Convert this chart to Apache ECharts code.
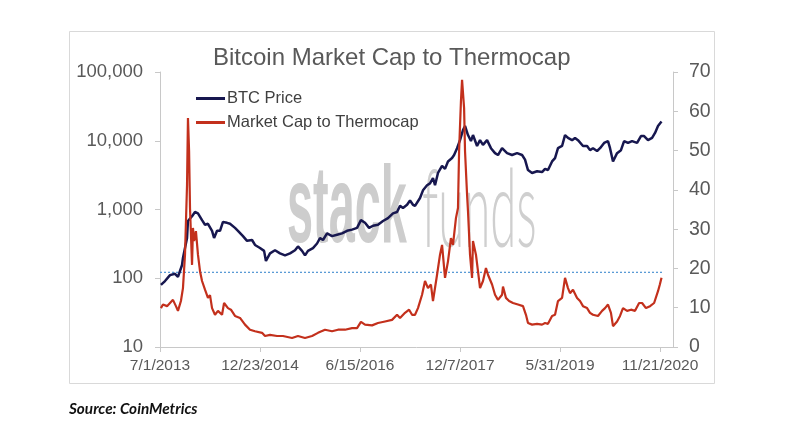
<!DOCTYPE html>
<html>
<head>
<meta charset="utf-8">
<script src="https://cdn.jsdelivr.net/npm/echarts@6/dist/echarts.min.js"></script>
<style>
html,body{margin:0;padding:0;background:#fff;}
#chart{width:800px;height:445px;}
</style>
</head>
<body>
<div id="chart"></div>
<script>
// ---- Data (days counted from 7/1/2013) ----
const startDate = Date.UTC(2013, 6, 1);
const xTickDays = [0, 540, 1080, 1620, 2160, 2700];
const leftTicks = [10, 100, 1000, 10000, 100000];

const btcDay = [5,27,54,81,97,119,124,146,151,173,189,205,227,243,259,281,292,308,324,340,362,378,405,421,448,470,497,513,540,562,572,594,621,648,675,702,729,745,767,783,799,826,848,864,880,902,929,956,983,1010,1037,1064,1085,1107,1129,1150,1177,1204,1231,1258,1280,1296,1312,1334,1350,1366,1377,1404,1420,1442,1458,1474,1485,1501,1523,1539,1555,1577,1588,1604,1620,1636,1647,1663,1679,1690,1712,1728,1744,1766,1787,1809,1825,1847,1874,1901,1928,1955,1971,1987,2009,2036,2063,2079,2095,2117,2133,2149,2171,2187,2203,2225,2241,2257,2284,2306,2322,2338,2360,2376,2398,2419,2430,2446,2468,2489,2506,2527,2549,2576,2597,2614,2635,2657,2673,2689,2708];
const btcPrice = [80,91,111,116,105,156,197,385,680,800,920,880,700,600,620,490,385,490,490,660,640,620,540,490,410,350,360,305,275,250,178,230,255,230,215,230,255,290,250,215,250,275,320,385,360,450,410,430,450,490,510,540,700,640,540,580,600,680,750,880,920,1130,1050,1170,1350,1170,1130,1470,1900,2250,2400,2870,2250,3400,4300,3900,5000,5600,6200,7800,10200,14300,16400,12100,9900,12100,8400,10200,8700,10200,7800,6600,6200,7800,6600,6200,6600,6200,5300,3750,3400,3600,3500,3900,3750,5000,5600,7800,8400,12100,11000,10200,11000,10200,8400,8400,7300,7800,7100,7800,9300,9900,7800,5000,6600,7300,9900,9300,9900,9300,11700,11700,10200,11000,13000,16400,19000];

const mctDay = [5,16,38,54,70,86,97,113,124,135,146,151,157,162,173,178,184,194,205,216,227,243,259,270,281,297,313,335,346,367,383,405,432,459,486,513,551,567,594,632,664,713,745,783,821,853,891,929,961,999,1037,1064,1085,1107,1145,1177,1215,1253,1280,1296,1323,1345,1361,1377,1393,1415,1431,1447,1463,1474,1496,1512,1523,1539,1555,1571,1582,1598,1609,1615,1625,1631,1642,1647,1658,1663,1674,1685,1690,1706,1717,1728,1744,1760,1771,1793,1809,1825,1847,1852,1868,1885,1906,1933,1960,1976,1987,2009,2036,2063,2079,2095,2117,2133,2149,2171,2187,2203,2214,2230,2252,2268,2284,2306,2322,2338,2365,2387,2403,2419,2435,2446,2468,2484,2500,2522,2543,2565,2587,2603,2624,2646,2668,2689,2699,2708];
const mctRatio = [9.9,10.8,10.4,11.2,12.0,10.4,9.2,11.7,15.0,23.5,41.3,58.3,49.9,35.4,20.9,30.3,27.0,29.5,23.5,19.3,16.8,14.6,12.5,13.2,9.9,8.2,9.2,8.2,11.2,9.9,9.5,7.9,7.4,5.7,4.4,4.0,3.6,2.8,3.1,2.8,2.8,2.3,2.8,2.3,2.8,3.6,4.4,4.0,4.4,4.4,4.8,4.8,6.4,5.7,5.5,6.1,6.5,6.9,8.2,7.4,8.7,9.5,8.2,8.2,9.9,13.3,16.8,15.0,15.9,11.7,18.4,23.5,26.0,17.6,21.8,27.7,26.0,32.8,35.4,49.9,62.6,68.0,60.8,49.9,38.8,34.6,23.5,17.6,27.0,23.5,19.3,15.0,16.8,20.1,18.4,15.9,13.3,12.0,13.3,15.4,12.5,11.7,11.2,10.8,10.4,8.2,6.1,5.7,5.9,5.7,6.1,5.9,7.9,8.2,11.7,12.5,17.6,15.0,13.7,14.6,12.5,11.7,10.4,9.9,8.7,8.2,7.9,9.2,9.9,10.8,8.7,5.3,6.5,7.9,9.9,9.2,9.5,9.2,11.2,11.2,9.9,10.4,11.2,14.2,15.9,17.6];

const refDay = [0, 2712];
const refValue = [19, 19];

const seriesNames = ['BTC Price', 'Market Cap to Thermocap'];
const titleText = 'Bitcoin Market Cap to Thermocap';
const sourceText = 'Source: CoinMetrics';

function pairs(xs, ys) { return xs.map((x, i) => [x, ys[i]]); }
function fmtDay(d) {
  const dt = new Date(startDate + d * 86400000);
  return (dt.getUTCMonth() + 1) + '/' + dt.getUTCDate() + '/' + dt.getUTCFullYear();
}

const chart = echarts.init(document.getElementById('chart'), null, {renderer: 'canvas'});
const axisGray = '#c8c8c8';
const labelGray = '#595959';
const font = '"Liberation Sans", Arial, sans-serif';

chart.setOption({
  backgroundColor: '#fff',
  animation: false,
  title: {
    text: titleText,
    left: 213, top: 46, padding: 0,
    textStyle: {fontFamily: font, fontSize: 24, fontWeight: 'normal', color: labelGray}
  },
  legend: {
    data: seriesNames,
    orient: 'vertical',
    left: 191, top: 85,
    itemWidth: 29, itemHeight: 3, itemGap: 7,
    icon: 'rect',
    textStyle: {fontFamily: font, fontSize: 16.5, color: '#404040', padding: [0, 0, 0, -3]}
  },
  grid: {left: 160, right: 127, top: 72, bottom: 98, containLabel: false},
  xAxis: {
    type: 'value', min: 0, max: 2770,
    axisLine: {show: true, lineStyle: {color: axisGray, width: 1}},
    axisTick: {show: true, length: 5, lineStyle: {color: axisGray}, customValues: xTickDays},
    axisLabel: {customValues: xTickDays, formatter: fmtDay, margin: 11,
      fontFamily: font, fontSize: 15.5, color: labelGray},
    splitLine: {show: false}
  },
  yAxis: [{
    type: 'log', logBase: 10, min: 10, max: 100000, position: 'left',
    axisLine: {show: true, lineStyle: {color: axisGray}},
    axisTick: {show: true, length: 5, lineStyle: {color: axisGray}},
    axisLabel: {margin: 17, fontFamily: font, fontSize: 18.5, color: labelGray,
      formatter: v => Number(v).toLocaleString('en-US')},
    splitLine: {show: false},
    minorTick: {show: false}
  }, {
    type: 'value', min: 0, max: 70, interval: 10, position: 'right',
    axisLine: {show: true, lineStyle: {color: axisGray}},
    axisTick: {show: true, length: 5, lineStyle: {color: axisGray}},
    axisLabel: {margin: 16, fontFamily: font, fontSize: 19.5, color: labelGray},
    splitLine: {show: false}
  }],
  graphic: [
    {type: 'rect', silent: true, z: -10,
      shape: {x: 69.5, y: 31.5, width: 645, height: 352},
      style: {fill: 'none', stroke: '#d9d9d9', lineWidth: 1}},
    {type: 'text', silent: true, z: 0, x: 287, y: 212, scaleX: 0.43,
      style: {text: 'stack', font: 'bold 109px "Liberation Sans"', fill: '#cdcdcd',
        align: 'left', verticalAlign: 'middle'}},
    {type: 'text', silent: true, z: 0, x: 422, y: 212, scaleX: 0.435,
      style: {text: 'funds', font: '300 109px Lato, "Open Sans", sans-serif', fill: '#cfcfcf',
        align: 'left', verticalAlign: 'middle'}},
    {type: 'text', silent: true, x: 69, y: 409,
      style: {text: sourceText, font: 'italic bold 15.3px Lato, "Open Sans", sans-serif', fill: '#111',
        align: 'left', verticalAlign: 'middle'}}
  ],
  series: [{
    name: seriesNames[0], type: 'line', yAxisIndex: 0, showSymbol: false, symbol: 'none',
    data: pairs(btcDay, btcPrice),
    lineStyle: {color: '#17174f', width: 2.5}, itemStyle: {color: '#17174f'}, z: 3
  }, {
    name: seriesNames[1], type: 'line', yAxisIndex: 1, showSymbol: false, symbol: 'none',
    data: pairs(mctDay, mctRatio),
    lineStyle: {color: '#c3301c', width: 2.2}, itemStyle: {color: '#c3301c'}, z: 4
  }, {
    name: 'ref', type: 'line', yAxisIndex: 1, showSymbol: false, symbol: 'none',
    data: pairs(refDay, refValue),
    lineStyle: {color: '#5b9bd5', width: 1.3, type: [2, 2]}, z: 2
  }]
});
</script>
</body>
</html>
